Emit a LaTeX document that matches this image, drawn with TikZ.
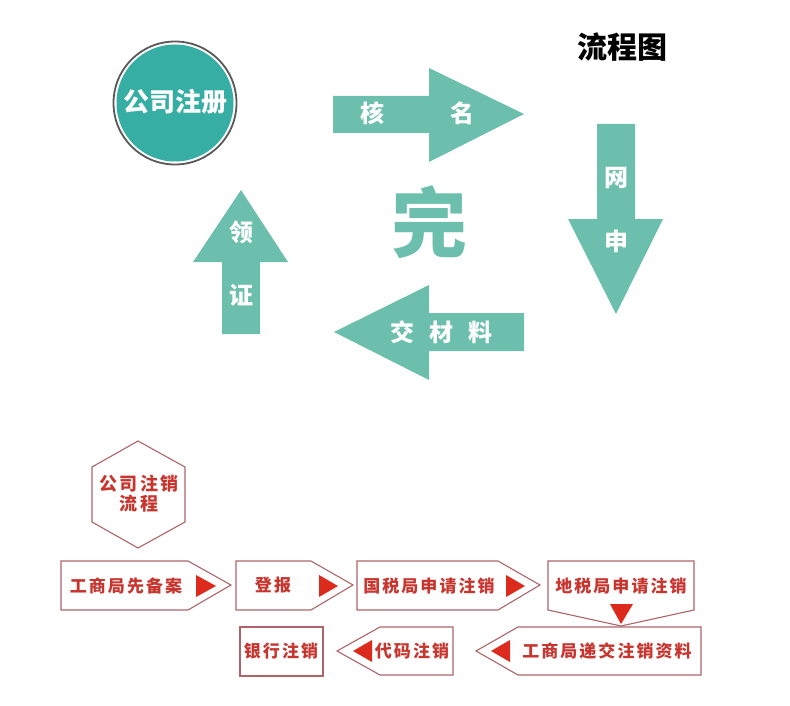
\documentclass[tikz,border=0pt]{standalone}
\usepackage{fontspec}
\newfontfamily\cjk{Noto Sans CJK SC}
\newfontfamily\cjkwide[LetterSpace=12]{Noto Sans CJK SC}
\definecolor{tealdark}{HTML}{36AEA4}
\definecolor{tealarrow}{HTML}{6DBFAD}
\definecolor{redtext}{HTML}{C8352E}
\definecolor{redline}{HTML}{AE6468}
\definecolor{redtri}{HTML}{DC2A1C}
\tikzset{
	bigarrow/.style={fill=tealarrow},
	arrowlabel/.style={text=white,inner sep=0,font=\cjk\bfseries\fontsize{24}{24}\selectfont},
	stepshape/.style={draw=redline,line width=1.1pt,fill=white},
	steptri/.style={fill=redtri},
	steplabel/.style={text=redtext,inner sep=0,font=\cjkwide\bfseries\fontsize{17}{17}\selectfont},
}
\begin{document}
\begin{tikzpicture}[x=1pt,y=-1pt]
	\useasboundingbox (0,0) rectangle (790,706);
	\node[circle,draw=black!65,line width=1.8pt,inner sep=0,minimum size=123pt] (ring) at (175,103) {};
	\node[circle,fill=tealdark,inner sep=0,minimum size=117pt] (disc) at (175,103) {};
	\node[text=white,inner sep=0,font=\cjk\bfseries\fontsize{26}{26}\selectfont] (reg) at (175,102) {公司注册};
	\node[inner sep=0,font=\cjk\bfseries\fontsize{30}{30}\selectfont] (title) at (622,47) {流程图};
	\node[text=tealarrow,inner sep=0,font=\cjk\bfseries\fontsize{76}{76}\selectfont] (done) at (429,222) {完};
	% four arrows
	\fill[bigarrow] (333,96) -- (429,96) -- (429,68) -- (524,114) -- (429,162) -- (429,133) -- (333,133) -- cycle;
	\fill[bigarrow] (597,124) -- (635,124) -- (635,219) -- (663,219) -- (616,314) -- (568,219) -- (597,219) -- cycle;
	\fill[bigarrow] (524,313) -- (429,313) -- (429,285) -- (334,332) -- (429,380) -- (429,351) -- (524,351) -- cycle;
	\fill[bigarrow] (222,334) -- (222,262) -- (193,262) -- (241,190) -- (288,262) -- (260,262) -- (260,334) -- cycle;
	\node[arrowlabel] (he) at (372,113) {核};
	\node[arrowlabel] (ming) at (462,113) {名};
	\node[arrowlabel] (wang) at (616,178) {网};
	\node[arrowlabel] (shen) at (616,241) {申};
	\node[arrowlabel] (jiao) at (402,332) {交};
	\node[arrowlabel] (cai) at (441,332) {材};
	\node[arrowlabel] (liao) at (480,332) {料};
	\node[arrowlabel] (ling) at (241,232) {领};
	\node[arrowlabel] (zheng) at (241,295) {证};
	% cancel steps
	\draw[stepshape] (138,441) -- (185,467) -- (185,522) -- (138,548) -- (92,522) -- (92,467) -- cycle;
	\node[steplabel,align=center,font=\cjkwide\bfseries\fontsize{18}{18}\selectfont] (cancel) at (139,494) {公司注销\\[2pt]流程};
	\draw[stepshape] (61,561) -- (188,561) -- (231,585) -- (188,610) -- (61,610) -- cycle;
	\draw[stepshape] (236,561) -- (311,561) -- (353,585) -- (311,610) -- (236,610) -- cycle;
	\draw[stepshape] (357,561) -- (498,561) -- (540,585) -- (498,610) -- (357,610) -- cycle;
	\draw[stepshape] (548,561) -- (694,561) -- (694,610) -- (621,626) -- (548,610) -- cycle;
	\draw[stepshape] (701,627) -- (518,627) -- (476,651) -- (518,675) -- (701,675) -- cycle;
	\draw[stepshape] (453,627) -- (380,627) -- (337,651) -- (380,675) -- (453,675) -- cycle;
	\draw[stepshape] (240,627) -- (323,627) -- (323,676) -- (240,676) -- cycle;
	\fill[steptri] (196,575) -- (216,586) -- (196,597) -- cycle;
	\fill[steptri] (319,575) -- (338,586) -- (319,597) -- cycle;
	\fill[steptri] (506,575) -- (525,586) -- (506,597) -- cycle;
	\fill[steptri] (610,604) -- (633,604) -- (621,624) -- cycle;
	\fill[steptri] (510,640) -- (491,651) -- (510,662) -- cycle;
	\fill[steptri] (372,640) -- (353,651) -- (372,662) -- cycle;
	\node[steplabel] (gongshang) at (126,586) {工商局先备案};
	\node[steplabel] (dengbao) at (273,585) {登报};
	\node[steplabel] (guoshui) at (429,586) {国税局申请注销};
	\node[steplabel] (dishui) at (621,586) {地税局申请注销};
	\node[steplabel] (dijiao) at (607,651) {工商局递交注销资料};
	\node[steplabel] (daima) at (412,651) {代码注销};
	\node[steplabel] (yinhang) at (281,651) {银行注销};
\end{tikzpicture}
\end{document}
